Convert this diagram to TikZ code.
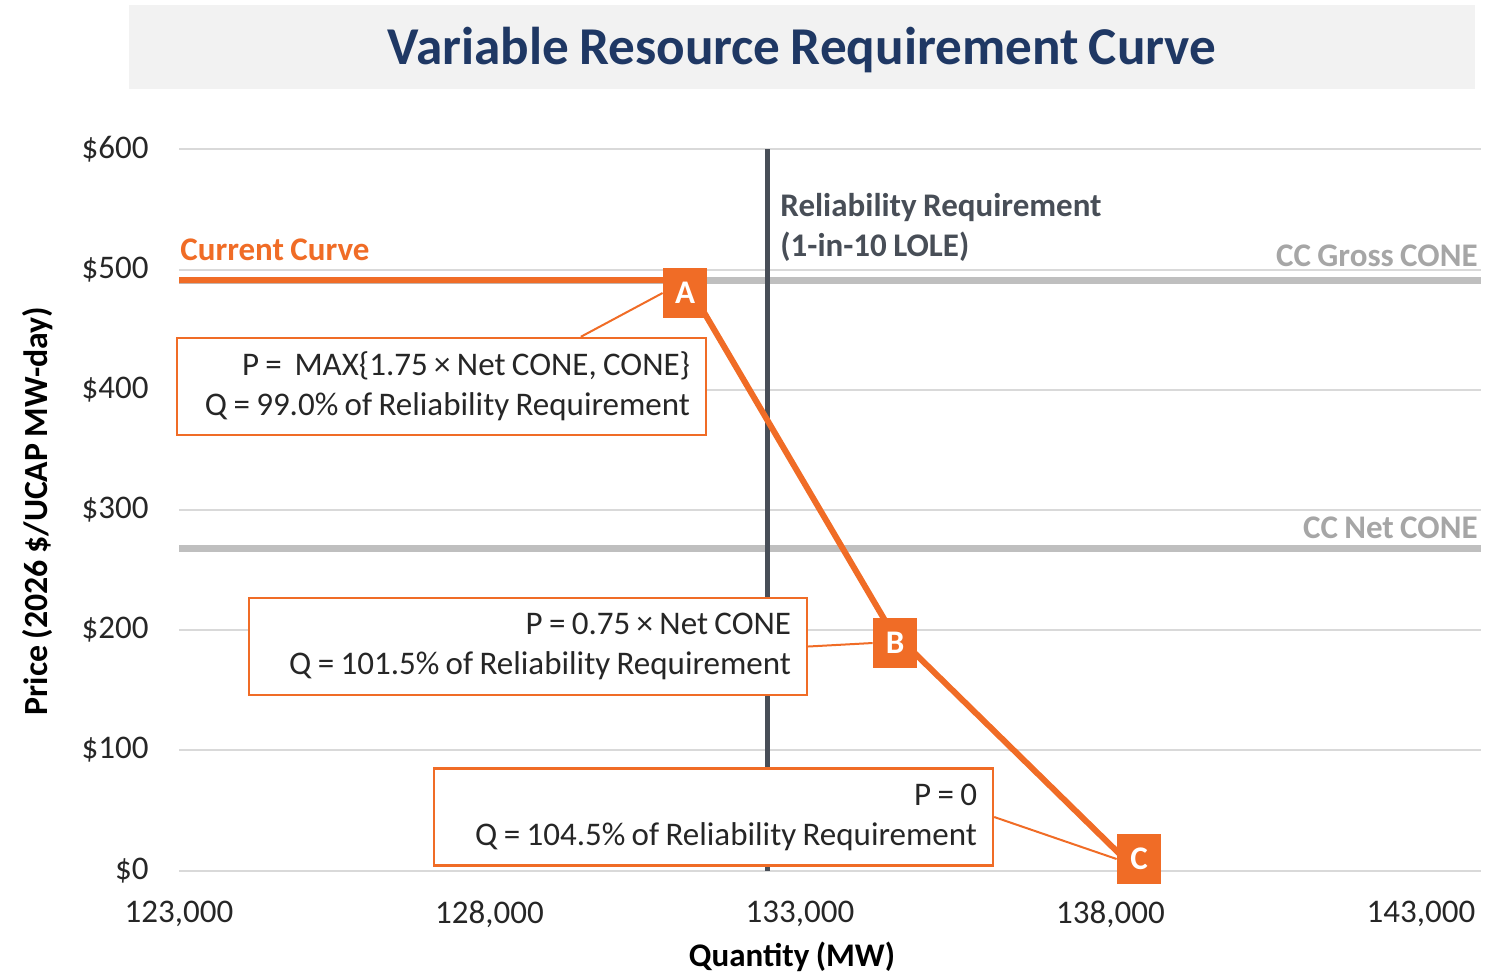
\documentclass[tikz,border=0pt]{standalone}
\usepackage{fontspec}
\setmainfont{Carlito}[WordSpace=0.85]
\definecolor{orng}{RGB}{240,108,38}
\definecolor{titleblue}{RGB}{31,56,100}
\definecolor{titlebg}{RGB}{242,242,242}
\definecolor{relgray}{RGB}{72,78,87}
\definecolor{gridgray}{RGB}{217,217,217}
\definecolor{conegray}{RGB}{191,191,191}
\definecolor{conetext}{RGB}{166,166,166}
\definecolor{txt}{RGB}{38,38,38}
\newcommand{\labfont}{\fontsize{16.5}{20}\selectfont}
\tikzset{
  gridline/.style={draw=gridgray, line width=1pt},
  coneline/.style={draw=conegray, line width=3.5pt},
  relline/.style={draw=relgray, line width=2.5pt},
  curveline/.style={draw=orng, line width=3pt},
  connline/.style={draw=orng, line width=1pt},
  ticklab/.style={font=\labfont, text=txt, inner sep=0pt},
  labbox/.style={draw=orng, line width=1.2pt, fill=white, minimum height=48.5pt,
     inner xsep=8pt, align=flush right, font=\labfont, text=txt},
  ptbox/.style={fill=orng, minimum width=22pt, minimum height=25pt, inner sep=0pt,
     text=white, font=\labfont\bfseries},
}
\begin{document}
\begin{tikzpicture}[x=0.5pt,y=-0.5pt]
\useasboundingbox (0,0) rectangle (1491,976);
% title
\fill[titlebg] (129,5) rectangle (1475,89);
\node[font=\fontsize{26.6}{30}\selectfont\bfseries, text=titleblue] (title) at (802,50) {Variable Resource Requirement Curve};
% horizontal grid and y tick labels
\foreach \val/\yy in {0/871,100/750,200/630,300/510,400/390,500/270,600/149}{
  \draw[gridline] (179,\yy) -- (1481,\yy);
  \node[ticklab, anchor=east] (y\val) at (149,\yy) {\$\val};
}
% x tick labels
\foreach \i/\lab in {0/123,1/128,2/133,3/138,4/143}{
  \node[ticklab] (x\i) at ({179+310.5*\i},914) {\lab,000};
}
% axis titles
\node[font=\labfont\bfseries, text=black] (xtitle) at (792,957) {Quantity (MW)};
\node[font=\fontsize{16.9}{20}\selectfont\bfseries, text=black, rotate=90] (ytitle) at (38,511) {Price (2026 \$/UCAP MW-day)};
% CONE lines
\draw[coneline] (179,280) -- (1481,280);
\draw[coneline] (179,548) -- (1481,548);
\node[anchor=east, font=\labfont\bfseries, text=conetext, inner sep=0pt] (gross) at (1478,256) {CC Gross CONE};
\node[anchor=east, font=\labfont\bfseries, text=conetext, inner sep=0pt] (net) at (1478,528) {CC Net CONE};
% reliability requirement
\draw[relline] (767,149) -- (767,871);
\node[anchor=west, align=left, font=\fontsize{16.5}{20}\selectfont\bfseries, text=relgray, inner sep=0pt] (rel) at (780,227) {Reliability Requirement\\(1-in-10 LOLE)};
% current curve
\node[anchor=west, font=\labfont\bfseries, text=orng, inner sep=0pt] (cc) at (180,250) {Current Curve};
\coordinate (p0) at (179,280);
\coordinate (pA) at (685,280);
\coordinate (pB) at (890,629);
\coordinate (pC) at (1137,871);
\draw[curveline] (p0) -- (pA) -- (pB) -- (pC);
% label boxes
\node[labbox, minimum width=264.5pt, text width=248.5pt] (labA) at (441.5,386.5)
  {\mbox{P = \ MAX\{1.75 × Net CONE, CONE\}}\\\mbox{Q = 99.0\% of Reliability Requirement}};
\node[labbox, minimum width=279pt, text width=263pt] (labB) at (528,646.5)
  {\mbox{P = 0.75 × Net CONE}\\\mbox{Q = 101.5\% of Reliability Requirement}};
\node[labbox, minimum width=279.5pt, text width=263.5pt] (labC) at (713.5,817)
  {\mbox{P = 0}\\\mbox{Q = 104.5\% of Reliability Requirement}};
% point markers
\node[ptbox] (boxA) at (685,293) {A};
\node[ptbox] (boxB) at (895,643) {B};
\node[ptbox] (boxC) at (1139,859) {C};
% connectors
\draw[connline] ([xshift=202.5pt]labA.north west) -- (boxA.west);
\draw[connline] (labB.east) -- (boxB.west);
\draw[connline] (labC.east) -- (boxC.west);
\end{tikzpicture}
\end{document}
